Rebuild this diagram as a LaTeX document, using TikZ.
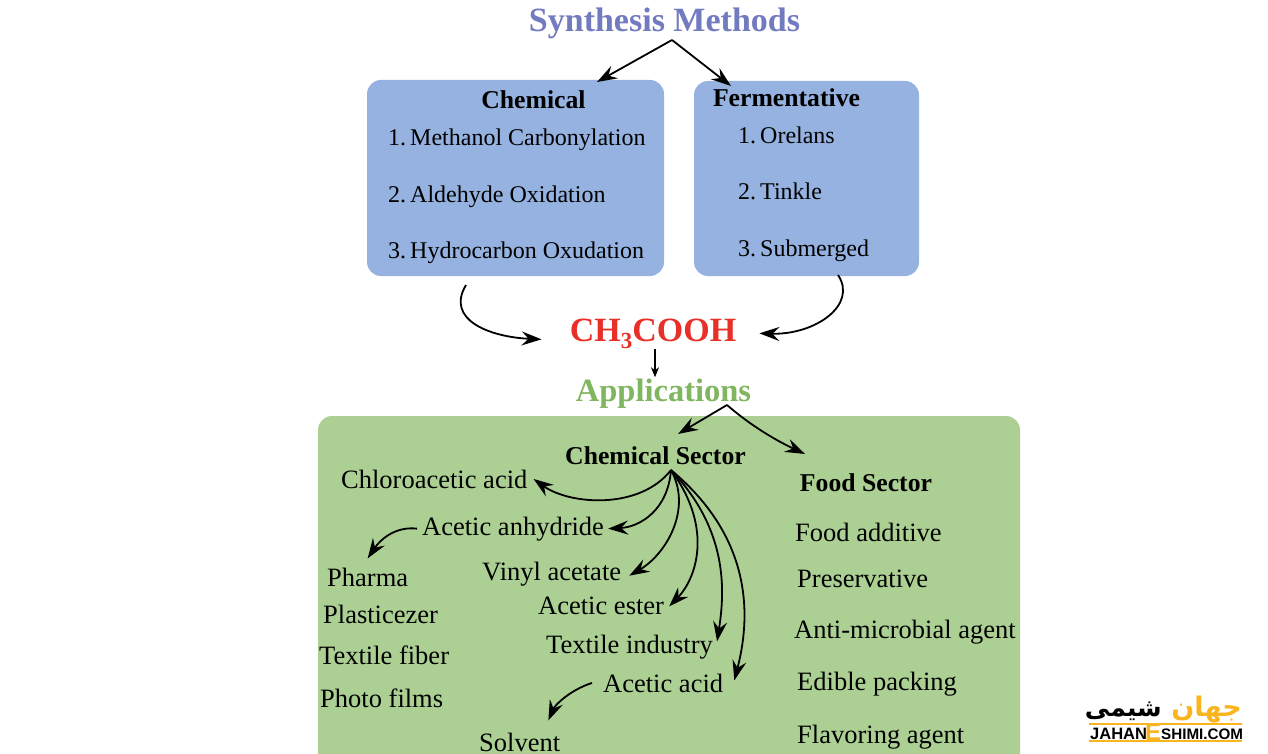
\documentclass[tikz,border=0pt]{standalone}
\usepackage{fontspec}
\setmainfont{Liberation Serif}
\newfontfamily\logofont{Liberation Sans}
\newfontfamily\persianfont[Script=Arabic]{DejaVu Sans}
\TeXXeTstate=1
\usetikzlibrary{arrows.meta,shapes,positioning}
\definecolor{methodblue}{RGB}{114,122,192}
\definecolor{boxblue}{RGB}{149,178,224}
\definecolor{boxgreen}{RGB}{172,208,148}
\definecolor{acidred}{RGB}{232,48,40}
\definecolor{appgreen}{RGB}{128,182,95}
\definecolor{logoorange}{RGB}{250,180,30}
\tikzset{
	arr/.style={-{Stealth[length=20pt,width=14pt,inset=7pt]}, line width=1.8pt},
	item/.style={anchor=base west, inner sep=1pt, font=\fontsize{26.5}{28}\selectfont},
	boxitem/.style={anchor=base west, inner sep=1pt, font=\fontsize{24}{26}\selectfont},
	head/.style={anchor=base, inner sep=1pt, font=\bfseries\fontsize{25.7}{28}\selectfont},
	logotext/.style={anchor=base west, inner sep=0pt, font=\logofont\bfseries\fontsize{16.5}{18}\selectfont}
}
\begin{document}
\begin{tikzpicture}[x=1pt,y=-1pt]
	\useasboundingbox (0,0) rectangle (1268,754);
	\clip (0,0) rectangle (1268,754);
	% boxes
	\node[fill=boxblue, rounded corners=14pt, minimum width=297pt, minimum height=196pt] (chembox) at (515.5,178) {};
	\node[fill=boxblue, rounded corners=14pt, minimum width=225pt, minimum height=195pt] (fermbox) at (806.5,178.5) {};
	\node[fill=boxgreen, rounded corners=14pt, minimum width=702pt, minimum height=400pt] (appbox) at (669,616) {};
	% titles
	\node[anchor=base, inner sep=1pt, text=methodblue, font=\bfseries\fontsize{34}{36}\selectfont] (synth) at (664.5,32) {Synthesis Methods};
	\node[anchor=base, inner sep=1pt, text=acidred, font=\bfseries\fontsize{34}{36}\selectfont] (acid) at (653,341) {CH\raisebox{-7pt}{\fontsize{23}{24}\selectfont 3}COOH};
	\node[anchor=base, inner sep=1pt, text=appgreen, font=\bfseries\fontsize{32.5}{34}\selectfont] (app) at (663.5,401) {Applications};
	% synthesis
	\node[head] (chem) at (533.5,109) {Chemical};
	\node[boxitem] (m1) at (387,146) {1.\,Methanol Carbonylation};
	\node[boxitem] (m2) at (387,202) {2.\,Aldehyde Oxidation};
	\node[boxitem] (m3) at (387,258) {3.\,Hydrocarbon Oxudation};
	\node[head] (ferm) at (786.5,107) {Fermentative};
	\node[boxitem] (f1) at (737,144) {1.\,Orelans};
	\node[boxitem] (f2) at (737,200) {2.\,Tinkle};
	\node[boxitem] (f3) at (737,256) {3.\,Submerged};
	% chemical sector
	\node[head] (csec) at (655.5,464) {Chemical Sector};
	\node[item] (chloro) at (340,488) {Chloroacetic acid};
	\node[item] (anhyd) at (421,535) {Acetic anhydride};
	\node[item] (vinyl) at (481,580) {Vinyl acetate};
	\node[item] (ester) at (537,614) {Acetic ester};
	\node[item] (textile) at (545,653) {Textile industry};
	\node[item] (aacid) at (602,692) {Acetic acid};
	\node[item] (pharma) at (326,586) {Pharma};
	\node[item] (plast) at (322,623) {Plasticezer};
	\node[item] (fiber) at (318,664) {Textile fiber};
	\node[item] (photo) at (319,707) {Photo films};
	\node[item] (solvent) at (478,751) {Solvent};
	% food sector
	\node[head] (fsec) at (866,491) {Food Sector};
	\node[item] (food1) at (794,541) {Food additive};
	\node[item] (food2) at (796,587) {Preservative};
	\node[item] (food3) at (793,638) {Anti-microbial agent};
	\node[item] (food4) at (796,690) {Edible packing};
	\node[item] (food5) at (796,743) {Flavoring agent};
	% arrow ends
	\coordinate (synthtip) at (672,40);
	\coordinate (apptip) at (727,405);
	\coordinate (csectip) at (671,470);
	\draw[arr] (synthtip) -- (597,82);
	\draw[arr] (synthtip) -- (731,86);
	\draw[arr] (466,285) .. controls (445,320) and (490,337) .. ([xshift=-27pt,yshift=-6pt]acid.west);
	\draw[arr] (838,275) .. controls (858,305) and (815,335) .. ([xshift=22pt]acid.east);
	\draw[arr, -{Stealth[length=10pt,width=8pt,inset=3pt]}, line width=1.3pt] (acid.south -| 655,0) -- (app.north -| 655,0);
	\draw[arr] (apptip) -- ([xshift=22.5pt,yshift=11pt]csec.north);
	\draw[arr] (apptip) .. controls (750,425) and (775,440) .. ([xshift=-61pt,yshift=18pt]fsec.north);
	\draw[arr] (csectip) .. controls (640,510) and (570,505) .. ([xshift=5pt]chloro.east);
	\draw[arr] (csectip) .. controls (668,510) and (640,527) .. ([xshift=3pt]anhyd.east);
	\draw[arr] (csectip) .. controls (693,510) and (665,555) .. ([xshift=7pt,yshift=-2pt]vinyl.east);
	\draw[arr] (csectip) .. controls (715,530) and (695,580) .. ([xshift=4pt,yshift=-1pt]ester.east);
	\draw[arr] (csectip) .. controls (728,530) and (725,590) .. ([xshift=3pt,yshift=-8pt]textile.north east);
	\draw[arr] (csectip) .. controls (755,540) and (750,620) .. ([xshift=10pt,yshift=-8pt]aacid.north east);
	\draw[arr] ([xshift=-4pt]anhyd.west) .. controls (395,526) and (380,540) .. ([yshift=8pt]pharma.north);
	\draw[arr] ([xshift=-10pt]aacid.west) .. controls (570,690) and (555,705) .. ([xshift=-13pt,yshift=11pt]solvent.north east);
	% logo
	\draw[logoorange, line width=1.5pt] (1089,724) -- (1242,724) (1089,741) -- (1242,741);
	\node[anchor=base east, inner sep=0pt, font=\persianfont\bfseries\fontsize{25}{26}\selectfont] (logofa) at (1162,716) {\beginR شیمی\endR};
	\node[anchor=base east, inner sep=0pt, text=logoorange, font=\persianfont\bfseries\fontsize{27}{28}\selectfont] (logojh) at (1242,716) {\beginR جهان\endR};
	\node[logotext] (logoa) at (1090,739) {JAHAN};
	\node[logotext, text=logoorange, font=\logofont\bfseries\fontsize{24}{24}\selectfont] (logoe) at (1145,740) {E};
	\node[logotext, font=\logofont\bfseries\fontsize{15.2}{16}\selectfont] (logob) at (1161,739) {SHIMI.COM};
\end{tikzpicture}
\end{document}
